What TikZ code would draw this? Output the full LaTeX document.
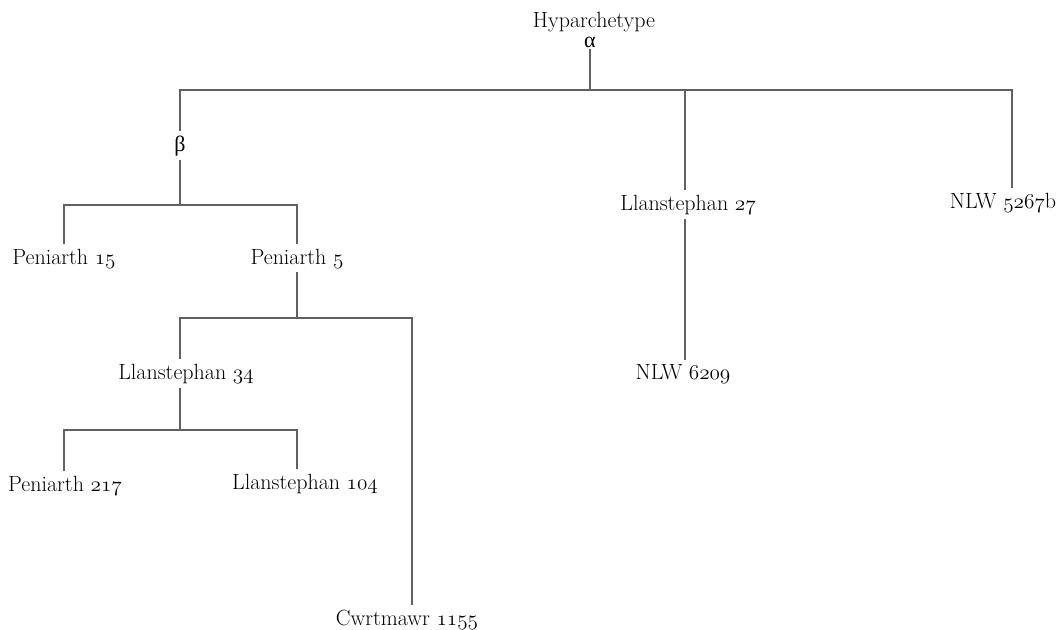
\documentclass[tikz,border=0pt]{standalone}
\usepackage{fontspec}
\newfontfamily\greekfont{Liberation Serif}
\newcommand\osf[1]{\scalebox{0.92}{\fontsize{17.28}{20}\usefont{OML}{cmm}{m}{it}#1}}
\usetikzlibrary{calc}
\begin{document}
\begin{tikzpicture}[x=0.75pt,y=-0.75pt,
  ms/.style={anchor=base, inner xsep=0pt, inner ysep=3pt, text=black,
             font=\fontsize{16.5}{19}\selectfont},
  link/.style={draw=black!62, line width=1pt}]
\useasboundingbox (0,0) rectangle (1061,629);

% manuscripts (placed by baseline)
\node[ms, inner ysep=0pt] (hyp) at (594,27)  {Hyparchetype};
\node[ms, inner ysep=0pt, outer ysep=1pt] (alpha) at (590,47) {\greekfont α};
\node[ms] (beta)    at (180,151) {\greekfont β};
\node[ms] (ll27)    at (688,210) {Llanstephan \osf{27}};
\node[ms] (nlw5267) at (1003,208) {NLW \osf{5267}b};
\node[ms] (nlw6209) at (683,379) {NLW \osf{6209}};
\node[ms] (p15)     at (64,264)  {Peniarth \osf{15}};
\node[ms] (p5)      at (297,264) {Peniarth \osf{5}};
\node[ms] (ll34)    at (186,379) {Llanstephan \osf{34}};
\node[ms] (cwrt)    at (407,625) {Cwrtmawr \osf{1155}};
\node[ms] (p217)    at (65,491)  {Peniarth \osf{217}};
\node[ms] (ll104)   at (305,489) {Llanstephan \osf{104}};

% line ends where a stem is off the centre of its label
\coordinate (ll27n)  at ($(ll27.north)+(-3,0)$);
\coordinate (ll27s)  at ($(ll27.south)+(-3,0)$);
\coordinate (n5267n) at ($(nlw5267.north)+(9,0)$);
\coordinate (n6209n) at ($(nlw6209.north)+(2,0)$);
\coordinate (ll34n)  at ($(ll34.north)+(-6,0)$);
\coordinate (ll34s)  at ($(ll34.south)+(-6,0)$);
\coordinate (ll104n) at ($(ll104.north)+(-8,0)$);
\coordinate (cwrtn)  at ($(cwrt.north)+(5,0)$);
\coordinate (p217n)  at ($(p217.north)+(-1,0)$);

% junctions
\coordinate (top) at (590,90);
\coordinate (jb)  at (180,205);
\coordinate (jp5) at (297,318);
\coordinate (j34) at (180,430);

% stemma
\draw[link] (alpha.south) -- (top);
\draw[link] (beta.north) |- (top) -| (n5267n);
\draw[link] (ll27n) -- (ll27n |- top);
\draw[link] (ll27s) -- (n6209n);

\draw[link] (beta.south) -- (jb);
\draw[link] (p15.north) |- (jb) -| (p5.north);

\draw[link] (p5.south) -- (jp5);
\draw[link] (ll34n) |- (jp5) -| (cwrtn);

\draw[link] (ll34s) -- (j34);
\draw[link] (p217n) |- (j34) -| (ll104n);
\end{tikzpicture}
\end{document}
